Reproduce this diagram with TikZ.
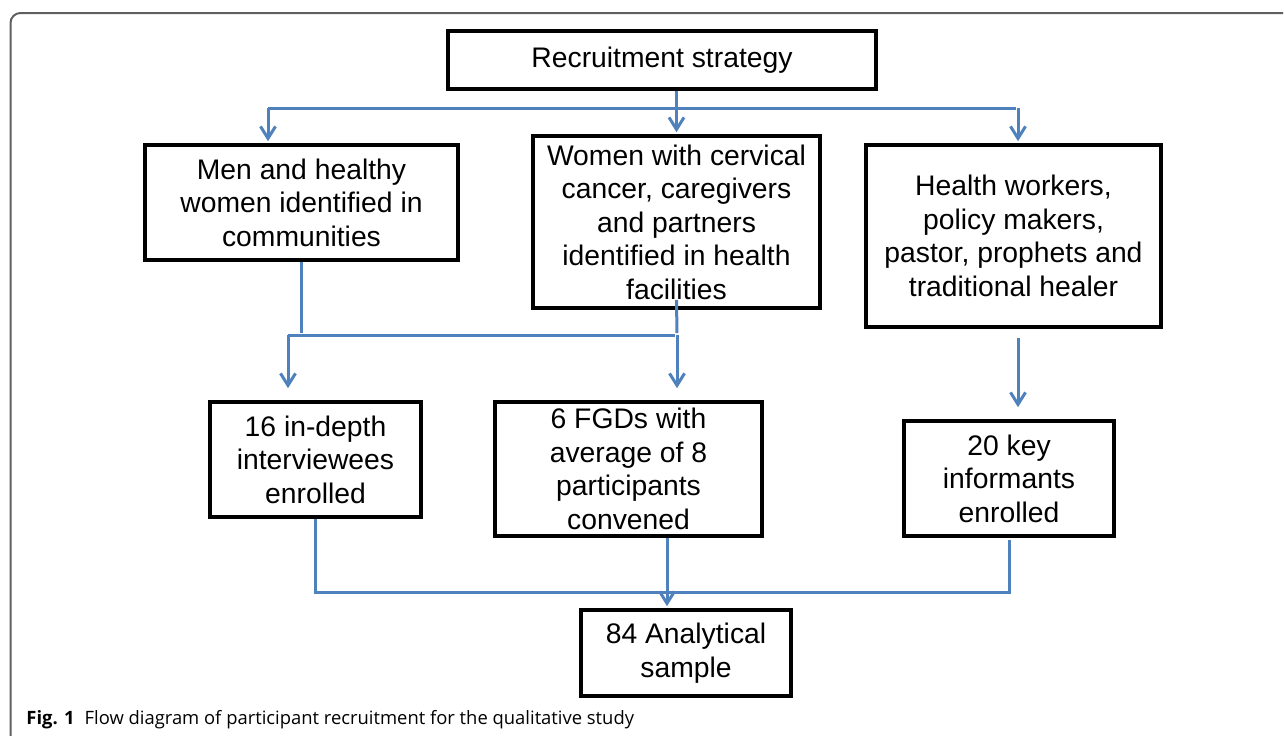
\documentclass[tikz,border=0pt]{standalone}
\usepackage{fontspec}
\setmainfont{Liberation Sans}
\newfontfamily\capfont{Open Sans}
\usepackage{tikz}
\usetikzlibrary{arrows.meta}

\definecolor{linkblue}{RGB}{79,129,189}
\definecolor{framegray}{RGB}{95,95,95}

\begin{document}
\begin{tikzpicture}[x=0.5pt,y=-0.5pt,shorten >=1pt,>={Straight Barb[length=6pt,width=7.5pt]}]

		\tikzstyle{every node}=[font=\fontsize{14.15}{16.75}\selectfont,align=center,inner sep=0pt]
		\tikzstyle{box}=[draw=black,line width=1.8pt]
		\tikzstyle{link}=[color=linkblue,line width=1.5pt]

		\useasboundingbox (0,0) rectangle (1284,735);
		\draw[framegray,line width=1pt,rounded corners=5pt] (10.5,736) -- (10.5,13) -- (1285,13);

		\node (b_1) [box,minimum width=214pt,minimum height=29pt] at (662,60) {Recruitment strategy};
		\node (b_2) [box,minimum width=156.5pt,minimum height=57.5pt] at (301.5,202.5) {Men and healthy\\women identified in\\communities};
		\node (b_3) [box,minimum width=143.5pt,minimum height=86pt] at (676.5,222) {Women with cervical\\cancer, caregivers\\and partners\\identified in health\\facilities};
		\node (b_4) [box,minimum width=147.5pt,minimum height=91pt] at (1013.5,236) {Health workers,\\policy makers,\\pastor, prophets and\\traditional healer};
		\node (b_5) [box,minimum width=105.5pt,minimum height=57.5pt] at (315.5,459.5) {16 in-depth\\interviewees\\enrolled};
		\node (b_6) [box,minimum width=133.5pt,minimum height=67pt] at (628.5,469) {6 FGDs with\\average of 8\\participants\\convened};
		\node (b_7) [box,minimum width=105pt,minimum height=57.5pt] at (1009,478.5) {20 key\\informants\\enrolled};
		\node (b_8) [box,minimum width=105pt,minimum height=43pt] at (686,653) {84 Analytical\\sample};

		\node (cap) [anchor=base west,font=\capfont\fontsize{9.2}{11}\selectfont] at (26,724) {\textbf{Fig. 1}\hspace{5pt}Flow diagram of participant recruitment for the qualitative study};

		% bends of the blue lines
		\coordinate (t_l) at (268,108);
		\coordinate (t_r) at (1018,108);
		\coordinate (m_l) at (288,335);
		\coordinate (m_r) at (677,335);
		\coordinate (d_l) at (316,592);
		\coordinate (d_m) at (667,592);

		\draw[link] (t_l) -- (t_r);
		\path[link,->] (b_1.south -| b_3) edge (b_3)
					(t_l) edge (t_l |- b_2.north)
					(t_r) edge (t_r |- b_4.north);

		\draw[link] (b_2.south) -- (b_2.south |- m_l);
		\draw[link] ([yshift=5pt]b_3.south) -- (m_r);
		\draw[link] (m_l) -- (m_r);
		\path[link,->,shorten >=6pt] (m_l) edge (m_l |- b_5.north)
					(m_r) edge (m_r |- b_6.north);
		\path[link,->,shorten <=4.5pt,shorten >=6pt] (t_r |- b_4.south) edge (t_r |- b_7.north);

		\draw[link] (b_5.south) -- (b_5.south |- d_l) -| (b_7.south);
		\path[link,->] (d_m |- b_6.south) edge (d_m |- b_8.north);
\end{tikzpicture}
\end{document}
